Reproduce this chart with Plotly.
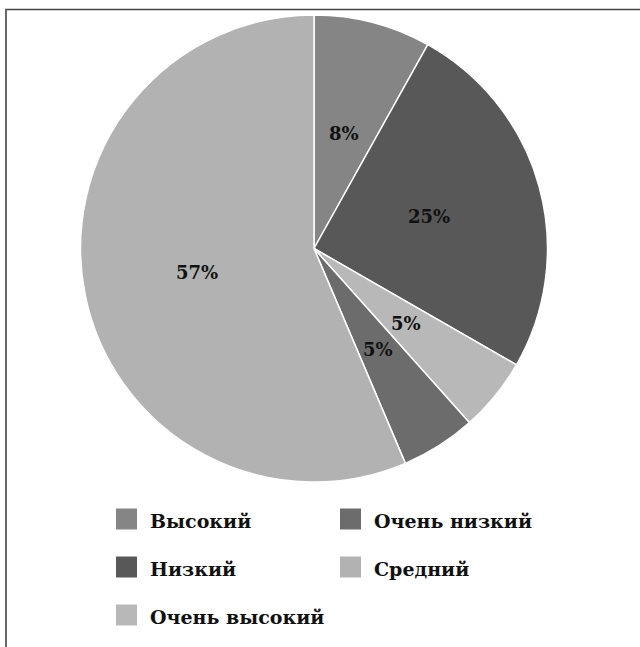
import math
import plotly.graph_objects as go

W, H = 640, 647

# data (clockwise from 12 o'clock)
labels = ["Высокий", "Низкий", "Очень высокий", "Очень низкий", "Средний"]
values = [8.1, 25.2, 5.1, 5.2, 56.4]          # slice sizes
pct_text = ["8%", "25%", "5%", "5%", "57%"]     # percentages printed on the chart
colors = ["#858585", "#585858", "#b8b8b8", "#6c6c6c", "#b2b2b2"]

# legend layout (row-major, two columns)
legend_order = ["Высокий", "Очень низкий", "Низкий", "Средний", "Очень высокий"]

FONT = "DejaVu Serif"

# pie geometry in pixels
CX, CY, R = 314.0, 248.5, 233.5

fig = go.Figure()
fig.add_trace(go.Pie(
    labels=labels,
    values=values,
    marker=dict(colors=colors, line=dict(color="white", width=1.5)),
    sort=False,
    direction="clockwise",
    rotation=0,
    textinfo="none",
    showlegend=False,
    hoverinfo="label",
    domain=dict(x=[(CX - R) / W, (CX + R) / W], y=[1 - (CY + R) / H, 1 - (CY - R) / H]),
))

shapes = []
annotations = []

# percentage labels at about half the radius, at each slice's mid-angle
total = sum(values)
cum = 0
for v, t in zip(values, pct_text):
    mid = (cum + v / 2) / total * 2 * math.pi
    cum += v
    px = CX + 0.51 * R * math.sin(mid)
    py = CY - 0.51 * R * math.cos(mid)
    annotations.append(dict(
        text=t, xref="paper", yref="paper",
        x=px / W, y=1 - py / H, xanchor="center", yanchor="middle",
        showarrow=False,
        font=dict(family=FONT, size=18, color="#111111", weight="bold"),
    ))

col_sq_x = [116, 340]
col_tx_x = [150, 374]
row_cy = [519, 567, 615]
SQ = 21
color_of = dict(zip(labels, colors))
for i, name in enumerate(legend_order):
    r, c = divmod(i, 2)
    cy = row_cy[r]
    x0 = col_sq_x[c]
    shapes.append(dict(
        type="rect", xref="paper", yref="paper",
        x0=x0 / W, x1=(x0 + SQ) / W,
        y0=1 - (cy + SQ / 2) / H, y1=1 - (cy - SQ / 2) / H,
        fillcolor=color_of[name], line=dict(width=0),
    ))
    annotations.append(dict(
        text=name, xref="paper", yref="paper",
        x=(col_tx_x[c] - 2) / W, y=1 - (cy + 2) / H,
        xanchor="left", yanchor="middle", showarrow=False,
        font=dict(family=FONT, size=19, color="#111111", weight="bold"),
    ))

# frame
shapes.append(dict(
    type="rect", xref="paper", yref="paper",
    x0=6 / W, x1=(W + 20) / W, y0=-20 / H, y1=1 - 9.5 / H,
    line=dict(color="#444444", width=1.6), fillcolor="rgba(0,0,0,0)",
))

fig.update_layout(
    width=W, height=H,
    margin=dict(l=0, r=0, t=0, b=0),
    paper_bgcolor="white",
    plot_bgcolor="white",
    shapes=shapes,
    annotations=annotations,
)

fig.write_html("out.html", config={"displayModeBar": False},
               post_script="document.body.style.margin='0px';")
